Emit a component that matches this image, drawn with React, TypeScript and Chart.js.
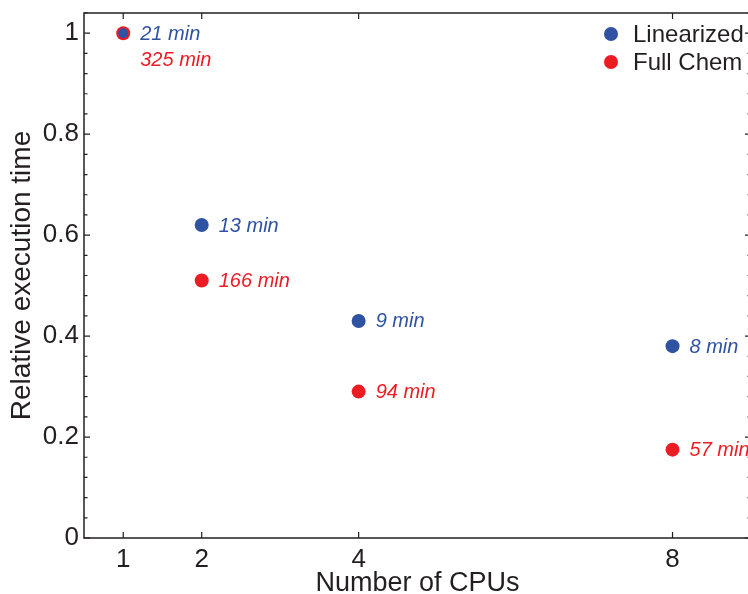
import React, { useEffect, useRef } from "react";
import { Chart, registerables } from "chart.js";

Chart.register(...registerables);

const CPUS = [1, 2, 4, 8];
const LINEARIZED = [1, 0.62, 0.43, 0.38];
const FULL_CHEM = [1, 0.51, 0.29, 0.175];
const LINEARIZED_LABELS = ["21 min", "13 min", "9 min", "8 min"];
const FULL_CHEM_LABELS = ["325 min", "166 min", "94 min", "57 min"];
const X_TICKS = [1, 2, 4, 8];
const Y_TICKS = [0, 0.2, 0.4, 0.6, 0.8, 1];
const Y_MINOR_STEP = 0.04;

const BLUE = "#2f52a3";
const RED = "#ec1c24";
const INK = "#231f20";
const FONT = "'Liberation Sans', Arial, Helvetica, sans-serif";

const W = 760;
const H = 594;

export default function App() {
  const ref = useRef<HTMLCanvasElement | null>(null);

  useEffect(() => {
    const canvas = ref.current;
    if (!canvas) return;

    const boxPlugin = {
      id: "boxTicks",
      afterDatasetsDraw(chart: any) {
        const { ctx, chartArea } = chart;
        const { left, right, top, bottom } = chartArea;
        const xs = chart.scales.x;
        const ys = chart.scales.y;
        ctx.save();
        ctx.strokeStyle = INK;
        ctx.lineWidth = 1.5;
        ctx.beginPath();
        ctx.rect(left, top, right - left, bottom - top);
        ctx.stroke();
        ctx.lineWidth = 1.2;
        ctx.beginPath();
        X_TICKS.forEach((v) => {
          const px = xs.getPixelForValue(v);
          ctx.moveTo(px, bottom);
          ctx.lineTo(px, bottom - 6);
          ctx.moveTo(px, top);
          ctx.lineTo(px, top + 6);
        });
        const yMax = ys.max;
        for (let i = 0; i * Y_MINOR_STEP <= yMax + 1e-9; i++) {
          const v = i * Y_MINOR_STEP;
          const major = Y_TICKS.some((t) => Math.abs(t - v) < 1e-9);
          const len = major ? 6 : 3.5;
          const py = ys.getPixelForValue(v);
          ctx.moveTo(left, py);
          ctx.lineTo(left + len, py);
          ctx.moveTo(right, py);
          ctx.lineTo(right - len, py);
        }
        ctx.stroke();
        ctx.restore();
      },
      afterDraw(chart: any) {
        const { ctx, chartArea } = chart;
        ctx.save();
        ctx.font = `italic 20px ${FONT}`;
        ctx.textBaseline = "middle";
        ctx.textAlign = "left";
        chart.data.datasets.forEach((ds: any, di: number) => {
          const meta = chart.getDatasetMeta(di);
          meta.data.forEach((pt: any, i: number) => {
            const dy = ds.labelDy ? ds.labelDy[i] : 0;
            ctx.fillStyle = ds.backgroundColor;
            ctx.fillText(ds.pointLabels[i], pt.x + 17, pt.y + dy + 1);
          });
        });
        ctx.font = `24px ${FONT}`;
        chart.data.datasets.forEach((ds: any, di: number) => {
          const cy = chartArea.top + 21 + di * 28;
          const cx = chartArea.right - 140;
          ctx.fillStyle = ds.backgroundColor;
          ctx.beginPath();
          ctx.arc(cx, cy, 7, 0, Math.PI * 2);
          ctx.fill();
          ctx.fillStyle = INK;
          ctx.fillText(ds.label, cx + 22, cy + 1);
        });
        ctx.restore();
      },
    };

    const chart = new Chart(canvas, {
      type: "scatter",
      data: {
        datasets: [
          {
            label: "Linearized",
            data: CPUS.map((x, i) => ({ x, y: LINEARIZED[i] })),
            backgroundColor: BLUE,
            borderColor: BLUE,
            pointRadius: [5, 7, 7, 7],
            pointBorderWidth: 0,
            pointLabels: LINEARIZED_LABELS,
          } as any,
          {
            label: "Full Chem",
            data: CPUS.map((x, i) => ({ x, y: FULL_CHEM[i] })),
            backgroundColor: RED,
            borderColor: RED,
            pointRadius: 7,
            pointBorderWidth: 0,
            pointLabels: FULL_CHEM_LABELS,
            labelDy: [26, 0, 0, 0],
          } as any,
        ],
      },
      options: {
        animation: false,
        responsive: false,
        maintainAspectRatio: false,
        layout: { padding: { top: 13, right: 9, left: 0, bottom: 0 } },
        plugins: {
          legend: { display: false },
          tooltip: { enabled: false },
        },
        scales: {
          x: {
            type: "linear",
            min: 0.5,
            max: 9,
            afterBuildTicks: (s: any) => {
              s.ticks = X_TICKS.map((v) => ({ value: v }));
            },
            afterFit: (s: any) => {
              s.height = 56;
              s.paddingLeft = 0;
              s.paddingRight = 0;
            },
            grid: { display: false, drawTicks: false },
            border: { display: false },
            ticks: {
              color: INK,
              font: { family: FONT, size: 26 },
              padding: 6,
              maxRotation: 0,
              autoSkip: false,
              callback: (v: any) => `${+v}`,
            },
            title: {
              display: true,
              text: "Number of CPUs",
              color: INK,
              font: { family: FONT, size: 27, lineHeight: 0.8 },
              padding: 0,
            },
          },
          y: {
            type: "linear",
            min: 0,
            max: 1.04,
            afterBuildTicks: (s: any) => {
              s.ticks = Y_TICKS.map((v) => ({ value: v }));
            },
            afterFit: (s: any) => {
              s.width = 84;
              s.paddingTop = 0;
              s.paddingBottom = 0;
            },
            grid: { display: false, drawTicks: false },
            border: { display: false },
            ticks: {
              color: INK,
              font: { family: FONT, size: 26 },
              padding: 5,
              autoSkip: false,
              callback: (v: any) => `${+v}`,
            },
            title: {
              display: true,
              text: "Relative execution time",
              color: INK,
              font: { family: FONT, size: 28, lineHeight: 1.6 },
              padding: 0,
            },
          },
        },
      } as any,
      plugins: [boxPlugin],
    });

    return () => chart.destroy();
  }, []);

  return (
    <div
      style={{
        position: "fixed",
        left: 0,
        top: 0,
        width: 748,
        height: 594,
        overflow: "hidden",
        background: "#fff",
      }}
    >
      <canvas ref={ref} width={W} height={H} style={{ width: W, height: H, display: "block" }} />
    </div>
  );
}
